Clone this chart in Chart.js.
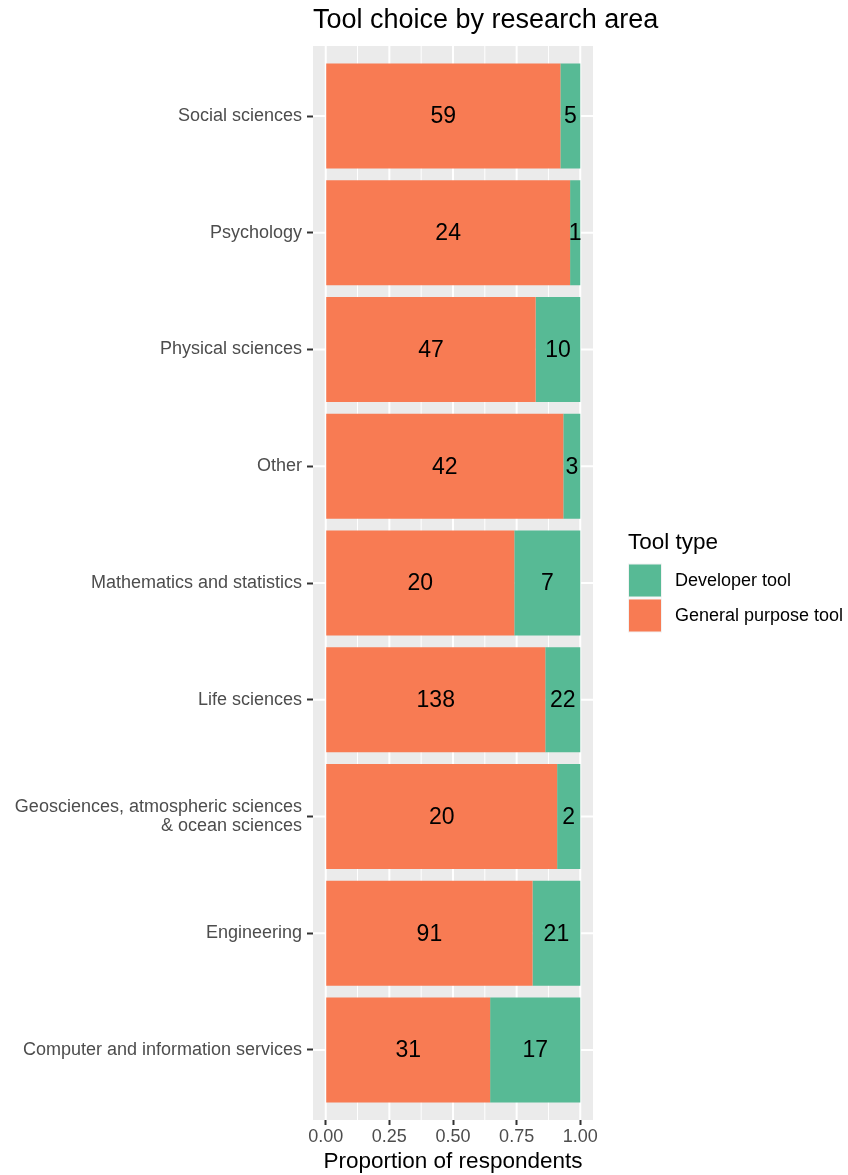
<!DOCTYPE html>
<html>
<head>
<meta charset="utf-8">
<title>Tool choice by research area</title>
<script src="https://cdn.jsdelivr.net/npm/chart.js@4.4.1/dist/chart.umd.min.js"></script>
<style>
  html, body { margin: 0; padding: 0; background: #ffffff; }
  #wrap { width: 848px; height: 1175px; }
</style>
</head>
<body>
<div id="wrap"><canvas id="chart" width="848" height="1175"></canvas></div>
<script>
// bottom -> top, as ggplot stacks a discrete y axis
const categories = [
  "Computer and information services",
  "Engineering",
  ["Geosciences, atmospheric sciences", "& ocean sciences"],
  "Life sciences",
  "Mathematics and statistics",
  "Other",
  "Physical sciences",
  "Psychology",
  "Social sciences"
];
const generalCounts = [31, 91, 20, 138, 20, 42, 47, 24, 59];
const developerCounts = [17, 21, 2, 22, 7, 3, 10, 1, 5];
const xTicks = [0, 0.25, 0.5, 0.75, 1];
const xMinor = [0.125, 0.375, 0.625, 0.875];

const FONT = '"Liberation Sans", Arial, Helvetica, sans-serif';
const ORANGE = "#F87B53";
const GREEN = "#57BA95";

const positions = categories.map((c, i) => i + 1);
const totals = generalCounts.map((g, i) => g + developerCounts[i]);
const generalProp = generalCounts.map((g, i) => ({ x: g / totals[i], y: positions[i] }));
const developerProp = developerCounts.map((d, i) => ({ x: d / totals[i], y: positions[i] }));

const panelPlugin = {
  id: "panel",
  beforeDatasetsDraw(chart) {
    const { ctx, chartArea: a, scales } = chart;
    ctx.save();
    ctx.fillStyle = "#EBEBEB";
    ctx.fillRect(a.left, a.top, a.right - a.left, a.bottom - a.top);
    ctx.strokeStyle = "#ffffff";
    ctx.lineWidth = 1;
    xMinor.forEach(v => {
      const px = scales.x.getPixelForValue(v);
      ctx.beginPath(); ctx.moveTo(px, a.top); ctx.lineTo(px, a.bottom); ctx.stroke();
    });
    ctx.lineWidth = 2;
    xTicks.forEach(v => {
      const px = scales.x.getPixelForValue(v);
      ctx.beginPath(); ctx.moveTo(px, a.top); ctx.lineTo(px, a.bottom); ctx.stroke();
    });
    positions.forEach(v => {
      const py = scales.y.getPixelForValue(v);
      ctx.beginPath(); ctx.moveTo(a.left, py); ctx.lineTo(a.right, py); ctx.stroke();
    });
    ctx.restore();
  }
};

const labelPlugin = {
  id: "labels",
  afterDatasetsDraw(chart) {
    const { ctx } = chart;
    ctx.save();
    ctx.fillStyle = "#000000";
    ctx.font = "23px " + FONT;
    ctx.textAlign = "center";
    ctx.textBaseline = "middle";
    const counts = [generalCounts, developerCounts];
    chart.data.datasets.forEach((ds, i) => {
      chart.getDatasetMeta(i).data.forEach((bar, j) => {
        ctx.fillText(String(counts[i][j]), (bar.x + bar.base) / 2, bar.y + 1);
      });
    });
    ctx.restore();
  },
  afterDraw(chart) {
    const { ctx, chartArea: a } = chart;
    ctx.save();
    // title
    ctx.fillStyle = "#000000";
    ctx.textBaseline = "middle";
    ctx.textAlign = "left";
    ctx.font = "27px " + FONT;
    ctx.fillText("Tool choice by research area", a.left, 21);
    // x axis title
    ctx.textAlign = "center";
    ctx.font = "22.5px " + FONT;
    ctx.fillText("Proportion of respondents", (a.left + a.right) / 2, 1162);
    // legend
    const lx = a.right + 35;
    ctx.textAlign = "left";
    ctx.fillText("Tool type", lx, 543);
    const items = [["Developer tool", GREEN], ["General purpose tool", ORANGE]];
    ctx.font = "18px " + FONT;
    items.forEach((it, k) => {
      const top = 563.5 + k * 35;
      ctx.fillStyle = "#F2F2F2";
      ctx.fillRect(lx, top, 34, 34);
      ctx.fillStyle = it[1];
      ctx.fillRect(lx + 1, top + 1, 32, 32);
      ctx.fillStyle = "#000000";
      ctx.fillText(it[0], lx + 47, top + 18);
    });
    ctx.restore();
  }
};

new Chart(document.getElementById("chart").getContext("2d"), {
  type: "bar",
  data: {
    datasets: [
      { label: "General purpose tool", data: generalProp, backgroundColor: ORANGE, borderWidth: 0 },
      { label: "Developer tool", data: developerProp, backgroundColor: GREEN, borderWidth: 0 }
    ]
  },
  options: {
    indexAxis: "y",
    responsive: false,
    animation: false,
    barPercentage: 0.9,
    categoryPercentage: 1.0,
    layout: { padding: { top: 46, right: 255, bottom: 0, left: 0 } },
    plugins: { legend: { display: false }, tooltip: { enabled: false }, title: { display: false } },
    scales: {
      x: {
        type: "linear",
        stacked: true,
        min: -0.05,
        max: 1.05,
        afterBuildTicks: scale => { scale.ticks = xTicks.map(v => ({ value: v })); },
        afterFit: scale => { scale.height = 55; },
        border: { display: false },
        grid: { drawOnChartArea: false, drawTicks: true, tickLength: 5, tickWidth: 2, tickColor: "#333333" },
        ticks: {
          color: "#4D4D4D",
          font: { family: FONT, size: 18 },
          padding: 1,
          maxRotation: 0,
          callback: v => Number(v).toFixed(2)
        }
      },
      y: {
        type: "linear",
        stacked: true,
        offset: false,
        min: 0.4,
        max: 9.6,
        afterBuildTicks: scale => { scale.ticks = positions.map(v => ({ value: v })); },
        afterFit: scale => { scale.width = 313; },
        border: { display: false },
        grid: { offset: false, drawOnChartArea: false, drawTicks: true, tickLength: 6, tickWidth: 2, tickColor: "#333333" },
        ticks: {
          color: "#4D4D4D",
          font: { family: FONT, size: 18, lineHeight: 1.1 },
          padding: 5,
          callback: v => categories[Math.round(v) - 1]
        }
      }
    }
  },
  plugins: [panelPlugin, labelPlugin]
});
</script>
</body>
</html>
